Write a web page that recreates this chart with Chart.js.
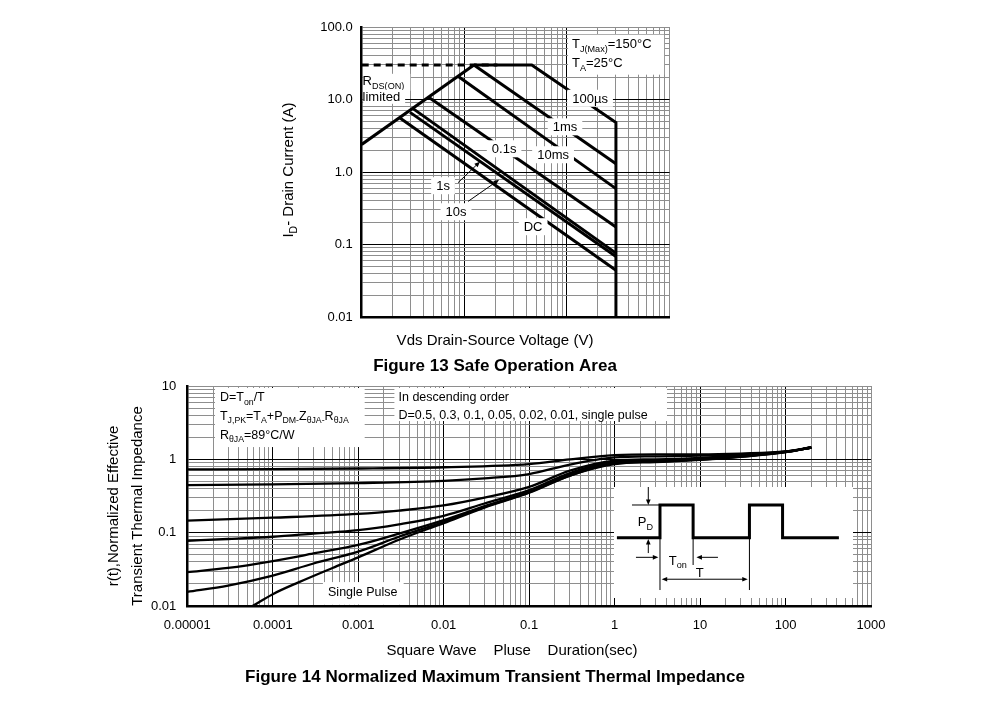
<!DOCTYPE html>
<html lang="en">
<head>
<meta charset="UTF-8">
<title>Figure 13 / Figure 14</title>
<script src="https://cdn.jsdelivr.net/npm/chart.js"></script>
<style>
  body { margin: 0; background: #fff; }
  #page { position: relative; width: 991px; height: 705px; }
  canvas { position: absolute; }
  #soa { left: 0; top: 0; }
  #zth { left: 0; top: 380px; }
  #pulse { left: 614px; top: 487px; background: #fff; }
</style>
</head>
<body>
<div id="page">
  <canvas id="soa" width="991" height="380"></canvas>
  <canvas id="zth" width="991" height="325"></canvas>
  <canvas id="pulse" width="239" height="111"></canvas>
</div>
<script>
// ---- Figure 13: safe operating area (V, A) ----
const soaTickY = [0.01, 0.1, 1, 10, 100];
const soaTickYLabels = ['0.01', '0.1', '1.0', '10.0', '100.0'];
const rdsV = [0.1, 1.24];     const rdsI = [2.4, 30];
const limitV = [0.1, 2.1];    const limitI = [30, 30];
const us100V = [1.24, 4.54, 30, 30]; const us100I = [30, 30, 4.8, 0.01];
const ms1V = [1.24, 30];      const ms1I = [30, 1.3];
const ms10V = [0.874, 30];    const ms10I = [20.8, 0.59];
const s01V = [0.446, 30];     const s01I = [10.8, 0.174];
const s1V = [0.314, 30];      const s1I = [7.54, 0.076];
const s10V = [0.296, 30];     const s10I = [6.64, 0.0685];
const dcV = [0.236, 30];      const dcI = [5.56, 0.044];

// ---- Figure 14: normalized transient thermal impedance ----
const zthTickX = [1e-5, 1e-4, 1e-3, 1e-2, 0.1, 1, 10, 100, 1000];
const zthTickXLabels = ['0.00001', '0.0001', '0.001', '0.01', '0.1', '1', '10', '100', '1000'];
const zthTickY = [0.01, 0.1, 1, 10];
const zthTickYLabels = ['0.01', '0.1', '1', '10'];
const d05T = [1e-5, 1e-4, 1e-3, 1e-2, 0.1, 0.3, 1, 3, 10, 30, 100, 200];
const d05Z = [0.73, 0.735, 0.75, 0.78, 0.86, 1.0, 1.14, 1.17, 1.17, 1.2, 1.28, 1.45];
const d03T = [1e-5, 1e-4, 1e-3, 1e-2, 3e-2, 0.1, 0.3, 1, 3, 10, 30, 100, 200];
const d03Z = [0.446, 0.455, 0.475, 0.51, 0.55, 0.63, 0.85, 1.06, 1.1, 1.12, 1.17, 1.27, 1.45];
const d01T = [1e-5, 1e-4, 1e-3, 3e-3, 1e-2, 3e-2, 0.1, 0.3, 1, 3, 10, 30, 100, 200];
const d01Z = [0.146, 0.16, 0.18, 0.2, 0.235, 0.3, 0.42, 0.7, 0.96, 1.0, 1.05, 1.13, 1.27, 1.45];
const lowT = [1e-5, 3e-5, 1e-4, 3e-4, 1e-3, 3e-3, 1e-2, 3e-2, 0.1, 0.3, 1, 3, 10, 30, 100, 200];
const d005Z = [0.0776, 0.082, 0.088, 0.097, 0.108, 0.13, 0.17, 0.25, 0.38, 0.65, 0.92, 0.96, 1.02, 1.11, 1.26, 1.45];
const d002Z = [0.029, 0.033, 0.041, 0.052, 0.068, 0.097, 0.148, 0.23, 0.36, 0.62, 0.9, 0.94, 1.0, 1.1, 1.26, 1.45];
const d001Z = [0.0156, 0.019, 0.026, 0.038, 0.055, 0.088, 0.14, 0.225, 0.355, 0.6, 0.88, 0.93, 0.99, 1.09, 1.25, 1.45];
const singleT = [5.8e-5, 1e-4, 2e-4, 5e-4, 1e-3, 3e-3, 1e-2, 3e-2, 0.1, 0.3, 1, 3, 10, 30, 100, 200];
const singleZ = [0.01, 0.0145, 0.021, 0.033, 0.046, 0.08, 0.135, 0.22, 0.35, 0.6, 0.86, 0.92, 0.98, 1.08, 1.25, 1.45];

// ---- inset pulse train (time in units of Ton, level in units of PD) ----
const pulseTimes  = [-1.3, 0, 0, 1, 1, 2.7, 2.7, 3.7, 3.7, 5.4];
const pulseLevels = [0, 0, 1, 1, 0, 0, 1, 1, 0, 0];

const FONT = '"Liberation Sans", Arial, Helvetica, sans-serif';

function pts(xs, ys) { return xs.map((x, i) => ({ x: x, y: ys[i] })); }

// 1..9 x 10^e for every decade, used for the grid lines
function logGrid(lo, hi) {
  const v = [];
  for (let e = lo; e < hi; e++) for (let m = 1; m < 10; m++) v.push(+(m + 'e' + e));
  v.push(+('1e' + hi));
  return v;
}
function isDecade(v) { const l = Math.log10(v); return Math.abs(l - Math.round(l)) < 1e-9; }
function labelFor(ticks, labels) {
  return function (value) {
    const i = ticks.findIndex(t => Math.abs(t / value - 1) < 1e-6);
    return i < 0 ? '' : labels[i];
  };
}
function gridOpts(max) {
  return {
    drawTicks: false,
    lineWidth: 1,
    color: c => (c.tick && isDecade(c.tick.value) && Math.abs(c.tick.value / max - 1) > 1e-6) ? '#000' : '#8e8e8e'
  };
}
// fixed axis sizes, no extra label overflow padding
function fixWidth(w) { return s => { s.width = w; s.paddingTop = 0; s.paddingBottom = 0; }; }
function fixHeight(h) { return s => { s.height = h; s.paddingLeft = 0; s.paddingRight = 0; }; }

// text with _{sub} markup, y = middle of the main text
function splitSub(str) {
  const out = []; const re = /_\{([^}]*)\}/g; let last = 0, m;
  while ((m = re.exec(str))) {
    if (m.index > last) out.push([str.slice(last, m.index), false]);
    out.push([m[1], true]); last = re.lastIndex;
  }
  if (last < str.length) out.push([str.slice(last), false]);
  return out;
}
function measure(ctx, str, size, weight) {
  let w = 0;
  splitSub(str).forEach(p => { ctx.font = (weight || '') + ' ' + (p[1] ? size * 0.7 : size) + 'px ' + FONT; w += ctx.measureText(p[0]).width; });
  return w;
}
function drawText(ctx, str, x, y, size, align, weight) {
  const w = measure(ctx, str, size, weight);
  let cx = align === 'center' ? x - w / 2 : align === 'right' ? x - w : x;
  ctx.textAlign = 'left'; ctx.textBaseline = 'alphabetic'; ctx.fillStyle = '#000';
  splitSub(str).forEach(p => {
    ctx.font = (weight || '') + ' ' + (p[1] ? size * 0.7 : size) + 'px ' + FONT;
    ctx.fillText(p[0], cx, y + size * 0.36 + (p[1] ? size * 0.26 : 0));
    cx += ctx.measureText(p[0]).width;
  });
  return w;
}
function whiteBox(ctx, x0, y0, x1, y1) { ctx.fillStyle = '#fff'; ctx.fillRect(x0, y0, x1 - x0, y1 - y0); }
function arrow(ctx, x0, y0, x1, y1, lw, head) {
  const a = Math.atan2(y1 - y0, x1 - x0);
  ctx.strokeStyle = '#000'; ctx.fillStyle = '#000'; ctx.lineWidth = lw;
  ctx.beginPath(); ctx.moveTo(x0, y0); ctx.lineTo(x1 - Math.cos(a) * head * 0.8, y1 - Math.sin(a) * head * 0.8); ctx.stroke();
  ctx.beginPath(); ctx.moveTo(x1, y1);
  ctx.lineTo(x1 - head * Math.cos(a - 0.4), y1 - head * Math.sin(a - 0.4));
  ctx.lineTo(x1 - head * Math.cos(a + 0.4), y1 - head * Math.sin(a + 0.4));
  ctx.closePath(); ctx.fill();
}

// ---------- Figure 13 ----------
const soaLabels = [
  { text: '100µs', v: 16.8, i: 10.4 },
  { text: '1ms', v: 9.57, i: 4.2 },
  { text: '10ms', v: 7.32, i: 1.73 },
  { text: '0.1s', v: 2.44, i: 2.09 },
  { text: '1s', v: 0.62, i: 0.647 },
  { text: '10s', v: 0.83, i: 0.283 },
  { text: 'DC', v: 4.68, i: 0.176 }
];
const soaArrows = [
  { from: [0.868, 0.712], to: [1.42, 1.387] },
  { from: [1.087, 0.393], to: [2.18, 0.78] }
];

const soaNotes = {
  id: 'soaNotes',
  afterDatasetsDraw(chart) {
    const ctx = chart.ctx, x = chart.scales.x, y = chart.scales.y;
    const px = v => x.getPixelForValue(v), py = v => y.getPixelForValue(v);
    ctx.save();
    // conditions box
    whiteBox(ctx, px(10.25), py(78.3), px(88.4), py(22));
    drawText(ctx, 'T_{J(Max)}=150°C', px(11.2), py(58.9), 13);
    drawText(ctx, 'T_{A}=25°C', px(11.2), py(32.2), 13);
    // Rds(on) limited
    let w = measure(ctx, 'R_{DS(ON)}', 13);
    whiteBox(ctx, px(0.1) + 1.5, py(17) - 9, px(0.102) + w + 6, py(17) + 8);
    drawText(ctx, 'R_{DS(ON)}', px(0.102), py(17) - 2, 13);
    w = measure(ctx, 'limited', 13);
    whiteBox(ctx, px(0.1) + 1.5, py(10.9) - 7, px(0.102) + w + 5, py(10.9) + 7);
    drawText(ctx, 'limited', px(0.102), py(10.9), 13);
    soaLabels.forEach(l => {
      const cx = px(l.v), cy = py(l.i), tw = measure(ctx, l.text, 13);
      whiteBox(ctx, cx - tw / 2 - 5, cy - 8.5, cx + tw / 2 + 5, cy + 8.5);
      drawText(ctx, l.text, cx, cy, 13, 'center');
    });
    soaArrows.forEach(a => arrow(ctx, px(a.from[0]), py(a.from[1]), px(a.to[0]), py(a.to[1]), 1, 6));
    ctx.restore();
  },
  afterDraw(chart) {
    const ctx = chart.ctx;
    ctx.save();
    drawText(ctx, 'Vds Drain-Source Voltage (V)', 495, 340, 15, 'center');
    drawText(ctx, 'Figure 13 Safe Operation Area', 495, 365, 17, 'center', 'bold');
    ctx.translate(288, 170); ctx.rotate(-Math.PI / 2);
    drawText(ctx, 'I_{D}- Drain Current (A)', 0, 0, 15, 'center');
    ctx.restore();
  }
};

function soaLine(xs, ys, dash) {
  return { data: pts(xs, ys), borderColor: '#000', borderWidth: 3, borderDash: dash || [],
    pointRadius: 0, fill: false, tension: 0 };
}

new Chart(document.getElementById('soa'), {
  type: 'line',
  data: {
    datasets: [
      soaLine(limitV, limitI, [7, 5]),
      soaLine(rdsV, rdsI),
      soaLine(us100V, us100I),
      soaLine(ms1V, ms1I),
      soaLine(ms10V, ms10I),
      soaLine(s01V, s01I),
      soaLine(s1V, s1I),
      soaLine(s10V, s10I),
      soaLine(dcV, dcI)
    ]
  },
  options: {
    responsive: false,
    animation: false,
    layout: { padding: { left: 0, right: 321.4, top: 27, bottom: 53 } },
    plugins: { legend: { display: false }, tooltip: { enabled: false } },
    scales: {
      x: {
        type: 'logarithmic', min: 0.1, max: 100,
        afterBuildTicks: s => { s.ticks = logGrid(-1, 2).map(v => ({ value: v })); },
        afterFit: fixHeight(10),
        ticks: { display: false },
        grid: gridOpts(100),
        border: { color: '#000', width: 2.5 }
      },
      y: {
        type: 'logarithmic', min: 0.01, max: 100,
        afterBuildTicks: s => { s.ticks = logGrid(-2, 2).map(v => ({ value: v })); },
        afterFit: fixWidth(361.7),
        ticks: { autoSkip: false, padding: 9, color: '#000', font: { size: 13, family: FONT },
          callback: labelFor(soaTickY, soaTickYLabels) },
        grid: gridOpts(100),
        border: { color: '#000', width: 2.5 }
      }
    }
  },
  plugins: [soaNotes]
});

// ---------- Figure 14 ----------
const zthNotes = {
  id: 'zthNotes',
  afterDatasetsDraw(chart) {
    const ctx = chart.ctx, x = chart.scales.x, y = chart.scales.y;
    const px = v => x.getPixelForValue(v), py = v => y.getPixelForValue(v);
    ctx.save();
    whiteBox(ctx, px(2.11e-5), py(9.4), px(1.19e-3), py(1.47));
    drawText(ctx, 'D=T_{on}/T', px(2.41e-5), py(7.08), 12.5);
    drawText(ctx, 'T_{J,PK}=T_{A}+P_{DM-}Z_{θJA-}R_{θJA}', px(2.41e-5), py(4.02), 12.5);
    drawText(ctx, 'R_{θJA}=89°C/W', px(2.41e-5), py(2.21), 12.5);
    whiteBox(ctx, px(2.65e-3), py(9.4), px(4.1), py(3.33));
    drawText(ctx, 'In descending order', px(2.96e-3), py(7.3), 12.5);
    drawText(ctx, 'D=0.5, 0.3, 0.1, 0.05, 0.02, 0.01, single pulse', px(2.96e-3), py(4.15), 12.5);
    whiteBox(ctx, px(3.86e-4), py(0.0212), px(3.4e-3), py(0.0104));
    drawText(ctx, 'Single Pulse', px(1.13e-3), py(0.0158), 12.5, 'center');
    ctx.restore();
  },
  afterDraw(chart) {
    const ctx = chart.ctx;
    ctx.save();
    drawText(ctx, 'Square Wave    Pluse    Duration(sec)', 512, 270, 15, 'center');
    drawText(ctx, 'Figure 14 Normalized Maximum Transient Thermal Impedance', 495, 296, 17, 'center', 'bold');
    ctx.translate(113, 126); ctx.rotate(-Math.PI / 2);
    drawText(ctx, 'r(t),Normalized Effective', 0, 0, 15, 'center');
    ctx.restore();
    ctx.save();
    ctx.translate(137, 126); ctx.rotate(-Math.PI / 2);
    drawText(ctx, 'Transient Thermal Impedance', 0, 0, 15, 'center');
    ctx.restore();
  }
};

function zthLine(xs, ys) {
  return { data: pts(xs, ys), borderColor: '#000', borderWidth: 2.3, pointRadius: 0,
    fill: false, cubicInterpolationMode: 'monotone' };
}

new Chart(document.getElementById('zth'), {
  type: 'line',
  data: {
    datasets: [
      zthLine(d05T, d05Z),
      zthLine(d03T, d03Z),
      zthLine(d01T, d01Z),
      zthLine(lowT, d005Z),
      zthLine(lowT, d002Z),
      zthLine(lowT, d001Z),
      zthLine(singleT, singleZ)
    ]
  },
  options: {
    responsive: false,
    animation: false,
    layout: { padding: { left: 0, right: 120, top: 6, bottom: 59 } },
    plugins: { legend: { display: false }, tooltip: { enabled: false } },
    scales: {
      x: {
        type: 'logarithmic', min: 1e-5, max: 1000,
        afterBuildTicks: s => { s.ticks = logGrid(-5, 3).map(v => ({ value: v })); },
        afterFit: fixHeight(40),
        ticks: { autoSkip: false, maxRotation: 0, padding: 12, color: '#000', font: { size: 13, family: FONT },
          callback: labelFor(zthTickX, zthTickXLabels) },
        grid: gridOpts(1000),
        border: { color: '#000', width: 2.5 }
      },
      y: {
        type: 'logarithmic', min: 0.01, max: 10,
        afterBuildTicks: s => { s.ticks = logGrid(-2, 1).map(v => ({ value: v })); },
        afterFit: fixWidth(187.3),
        ticks: { autoSkip: false, padding: 11, color: '#000', font: { size: 13, family: FONT },
          callback: labelFor(zthTickY, zthTickYLabels) },
        grid: gridOpts(10),
        border: { color: '#000', width: 2.5 }
      }
    }
  },
  plugins: [zthNotes]
});

// ---------- inset: pulse definition ----------
const pulseNotes = {
  id: 'pulseNotes',
  afterDatasetsDraw(chart) {
    const ctx = chart.ctx, x = chart.scales.x, y = chart.scales.y;
    const px = v => x.getPixelForValue(v), py = v => y.getPixelForValue(v);
    ctx.save();
    ctx.strokeStyle = '#000'; ctx.lineWidth = 1;
    const vline = (t, l0, l1) => { ctx.beginPath(); ctx.moveTo(px(t), py(l0)); ctx.lineTo(px(t), py(l1)); ctx.stroke(); };
    // PD reference
    ctx.beginPath(); ctx.moveTo(px(-0.845), py(1)); ctx.lineTo(px(0), py(1)); ctx.stroke();
    arrow(ctx, px(-0.353), py(1.55), px(-0.353), py(1.0), 1, 6);
    arrow(ctx, px(-0.353), py(-0.47), px(-0.353), py(-0.04), 1, 6);
    drawText(ctx, 'P_{D}', px(-0.44), py(0.49), 13, 'center');
    // time markers
    vline(0, 0, -1.6);
    vline(1, 0, -0.835);
    vline(2.7, 0, -1.6);
    arrow(ctx, px(-0.725), py(-0.6), px(-0.05), py(-0.6), 1, 6);
    arrow(ctx, px(1.75), py(-0.6), px(1.1), py(-0.6), 1, 6);
    drawText(ctx, 'T_{on}', px(0.54), py(-0.68), 13, 'center');
    arrow(ctx, px(1.3), py(-1.27), px(0.05), py(-1.27), 1, 6);
    arrow(ctx, px(1.3), py(-1.27), px(2.65), py(-1.27), 1, 6);
    drawText(ctx, 'T', px(1.2), py(-1.07), 13, 'center');
    ctx.restore();
  }
};

new Chart(document.getElementById('pulse'), {
  type: 'line',
  data: {
    datasets: [{ data: pts(pulseTimes, pulseLevels), borderColor: '#000', borderWidth: 3,
      pointRadius: 0, fill: false, tension: 0, borderJoinStyle: 'miter' }]
  },
  options: {
    responsive: false,
    animation: false,
    layout: { padding: 0 },
    plugins: { legend: { display: false }, tooltip: { enabled: false } },
    scales: {
      x: { type: 'linear', display: false, min: -1.388, max: 5.826 },
      y: { type: 'linear', display: false, min: -1.844, max: 1.55 }
    }
  },
  plugins: [pulseNotes]
});
</script>
</body>
</html>
